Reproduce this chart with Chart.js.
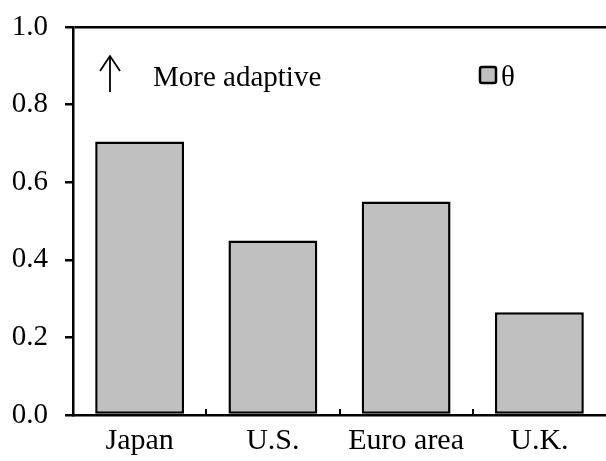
<!DOCTYPE html>
<html>
<head>
<meta charset="utf-8">
<script src="https://cdn.jsdelivr.net/npm/chart.js@4.4.1/dist/chart.umd.min.js"></script>
<style>
  html, body { margin: 0; padding: 0; background: #fff; }
  #wrap { width: 606px; height: 461px; }
</style>
</head>
<body>
<div id="wrap"><canvas id="c" width="606" height="461"></canvas></div>
<script>
const categories = ['Japan', 'U.S.', 'Euro area', 'U.K.'];
const theta = [0.705, 0.45, 0.55, 0.265];
const seriesLabel = '\u03b8';
const noteText = 'More adaptive';

const FONT = '"Liberation Serif", "Times New Roman", serif';
const FSIZE = 29;

// x ticks pointing up into the plot, arrow note and the small legend
const extras = {
  id: 'extras',
  afterDraw(chart) {
    const ctx = chart.ctx;
    const x = chart.scales.x;
    const area = chart.chartArea;
    ctx.save();
    ctx.strokeStyle = '#000';
    ctx.lineWidth = 2;
    const step = x.getPixelForValue(1) - x.getPixelForValue(0);
    for (let i = 1; i < categories.length; i++) {
      const px = Math.round(x.getPixelForValue(i) - step / 2);
      ctx.beginPath();
      ctx.moveTo(px, area.bottom);
      ctx.lineTo(px, area.bottom - 6);
      ctx.stroke();
    }

    // arrow
    ctx.lineWidth = 1.8;
    ctx.beginPath();
    ctx.moveTo(110, 92);
    ctx.lineTo(110, 56);
    ctx.moveTo(100, 71);
    ctx.lineTo(110, 56);
    ctx.lineTo(120, 71);
    ctx.stroke();

    ctx.fillStyle = '#000';
    ctx.font = FSIZE + 'px ' + FONT;
    ctx.textBaseline = 'alphabetic';
    ctx.fillText(noteText, 153, 86);

    // legend
    const ds = chart.data.datasets[0];
    ctx.fillStyle = ds.backgroundColor;
    ctx.strokeStyle = '#000';
    ctx.lineWidth = 2.5;
    ctx.beginPath();
    ctx.roundRect(480, 67, 16, 16, 2);
    ctx.fill();
    ctx.stroke();
    ctx.fillStyle = '#000';
    ctx.fillText(ds.label, 501, 86);
    ctx.restore();
  }
};

new Chart(document.getElementById('c'), {
  type: 'bar',
  data: {
    labels: categories,
    datasets: [{
      label: seriesLabel,
      data: theta,
      backgroundColor: '#c0c0c0',
      borderColor: '#000',
      borderWidth: 2.5,
      borderSkipped: false,
      categoryPercentage: 1,
      barPercentage: 0.667
    }]
  },
  options: {
    responsive: false,
    animation: false,
    layout: { padding: { top: 27, right: 0, left: 0, bottom: 0 } },
    plugins: {
      legend: { display: false },
      tooltip: { enabled: false }
    },
    scales: {
      x: {
        grid: { display: false, drawTicks: false },
        border: { color: '#000', width: 2.5 },
        ticks: { color: '#000', font: { family: FONT, size: 30 }, padding: 8, maxRotation: 0 },
        afterFit(s) { s.height = 46; }
      },
      y: {
        min: 0,
        max: 1,
        grid: {
          drawOnChartArea: true,
          color: c => (c.tick && c.tick.value === 1 ? '#000' : 'rgba(0,0,0,0)'),
          tickColor: '#000',
          tickLength: 8,
          lineWidth: 2.5
        },
        border: { color: '#000', width: 2.5 },
        ticks: {
          stepSize: 0.2,
          color: '#000',
          font: { family: FONT, size: FSIZE },
          padding: 17,
          callback: v => v.toFixed(1)
        },
        afterFit(s) {
          s.width = 73;
          s.paddingTop = 0;
          s.paddingBottom = 0;
        }
      }
    }
  },
  plugins: [extras]
});
</script>
</body>
</html>
